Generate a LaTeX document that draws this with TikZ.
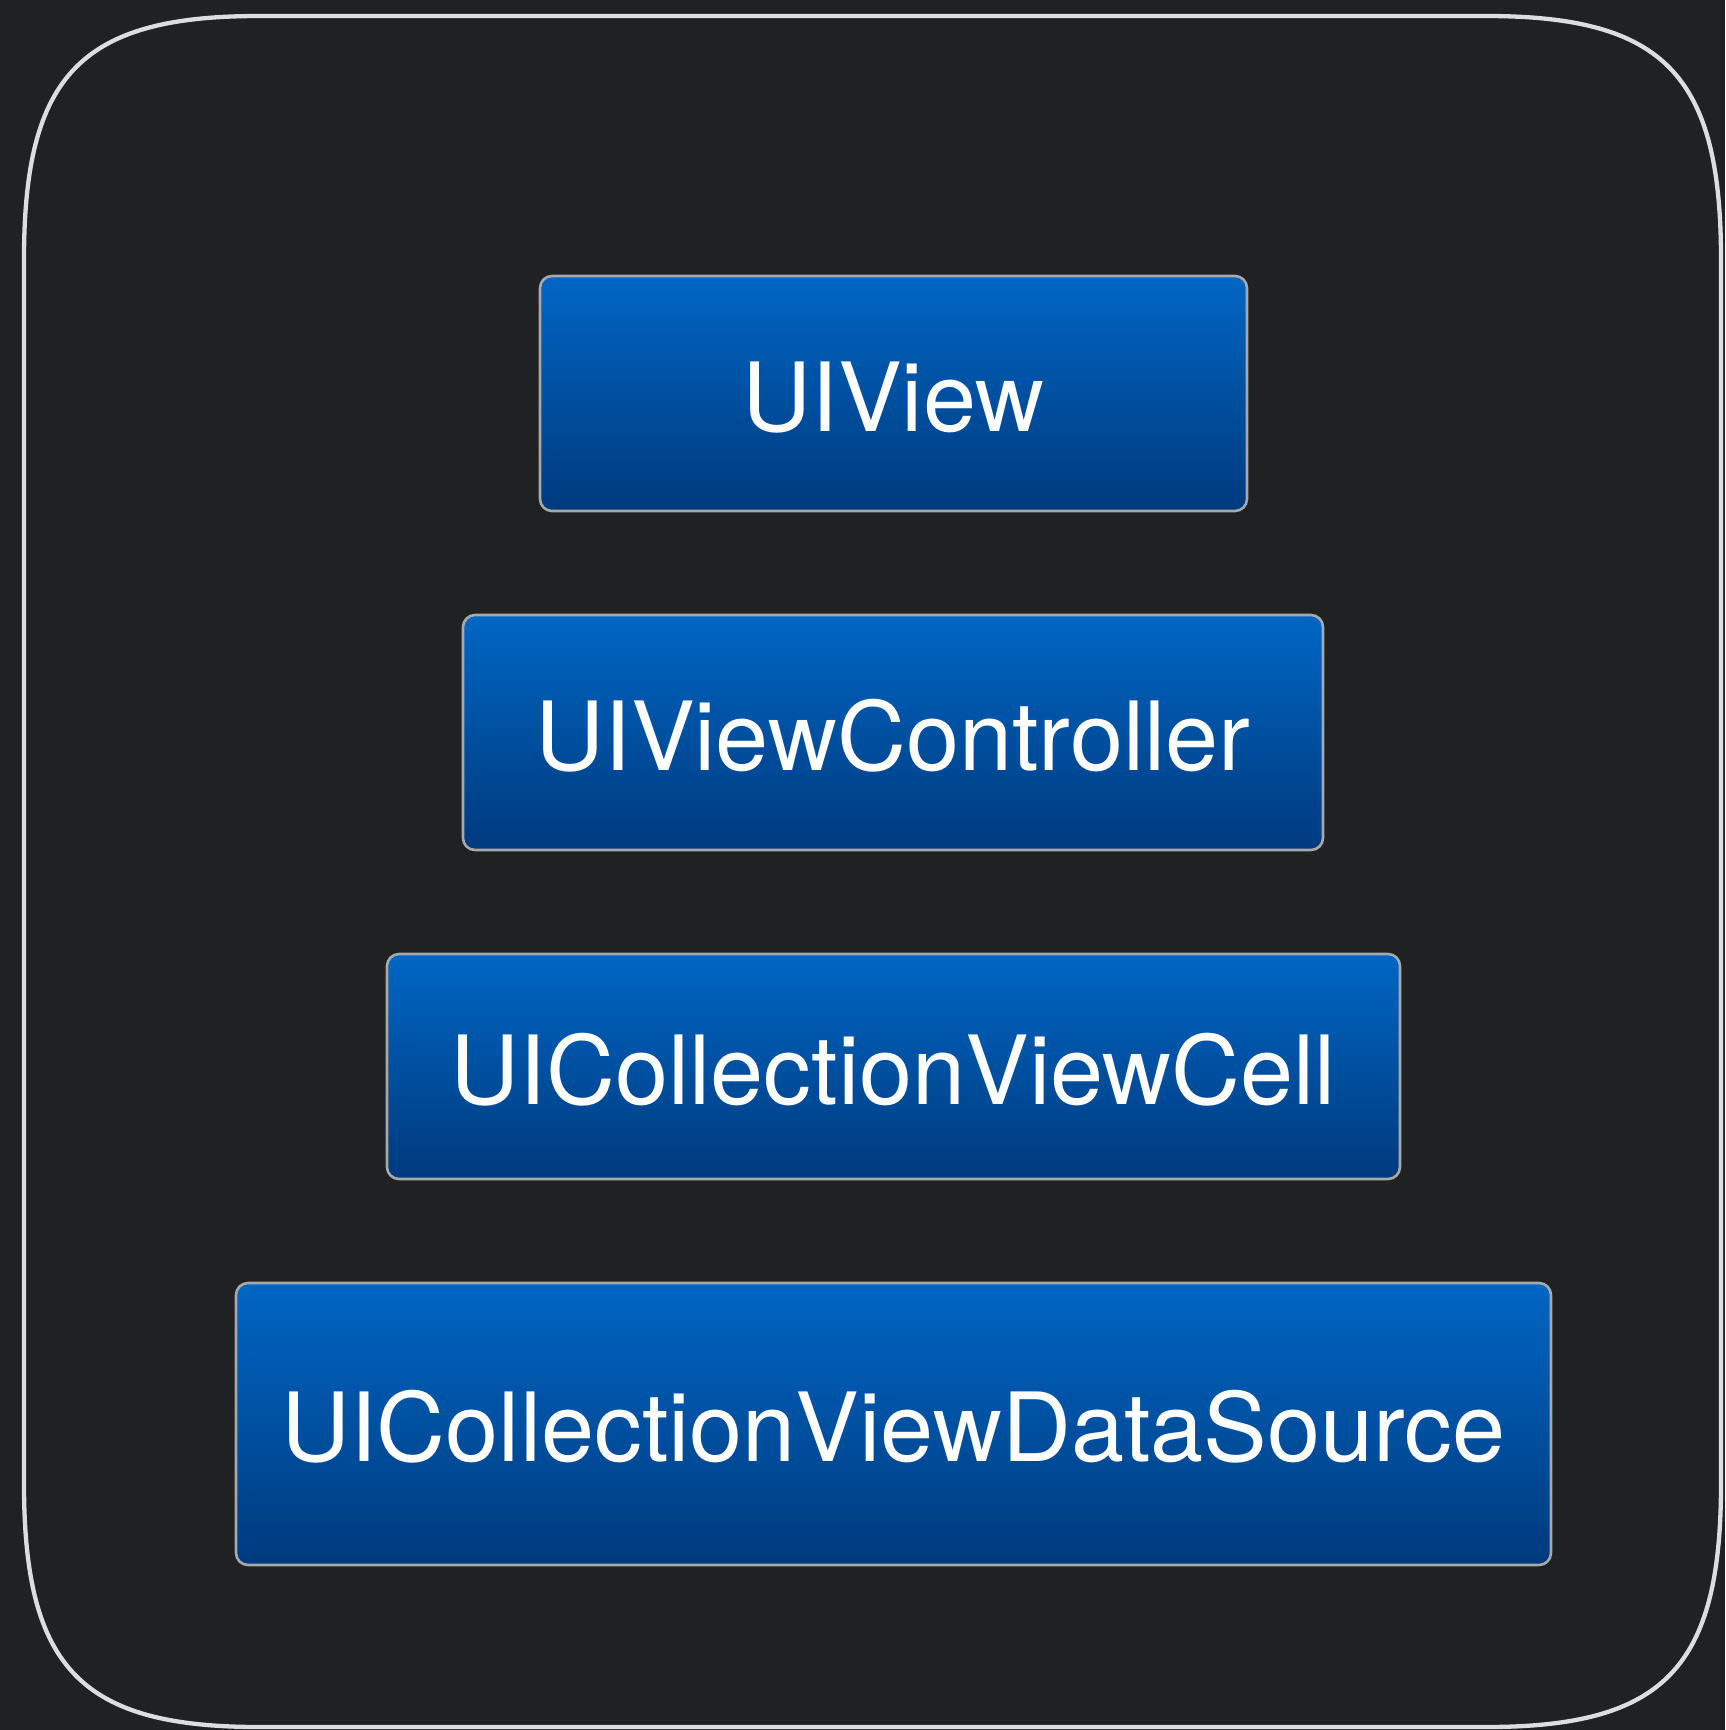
\documentclass[tikz,border=0pt]{standalone}
\usepackage{fontspec}
\setmainfont{TeX Gyre Heros}
\definecolor{bgdark}{HTML}{1F2123}
\definecolor{framegray}{HTML}{DCDDDE}
\definecolor{boxborder}{HTML}{A6A8AA}
\definecolor{boxtop}{HTML}{0066C4}
\definecolor{boxbottom}{HTML}{003A7E}
\tikzset{
  classbox/.style={draw=boxborder, line width=2.6pt, rounded corners=12pt,
    top color=boxtop, bottom color=boxbottom, inner sep=0pt,
    text height=75pt, text depth=0pt,
    text=white, font=\fontsize{95.5}{100}\selectfont, anchor=center},
  frame/.style={draw=framegray, line width=4.3pt}
}
\begin{document}
\begin{tikzpicture}[x=1pt,y=-1pt]
\useasboundingbox (0,0) rectangle (1725,1730);
\fill[bgdark] (0,0) rectangle (1725,1730);
\draw[frame] (24,259) .. controls (24,74) and (82,16) .. (259,16)
  -- (1486,16) .. controls (1663,16) and (1721,74) .. (1721,259)
  -- (1721,1484) .. controls (1721,1669) and (1663,1727) .. (1486,1727)
  -- (259,1727) .. controls (82,1727) and (24,1669) .. (24,1484) -- cycle;
\node[classbox, minimum width=707pt, minimum height=235pt] (view) at (893.5,393.5) {UIView};
\node[classbox, minimum width=860pt, minimum height=235pt] (controller) at (893,732.5) {UIViewController};
\node[classbox, minimum width=1013pt, minimum height=225pt] (cell) at (893.5,1066.5) {UICollectionViewCell};
\node[classbox, minimum width=1315pt, minimum height=282pt] (source) at (893.5,1424) {UICollectionViewDataSource};
\end{tikzpicture}
\end{document}
